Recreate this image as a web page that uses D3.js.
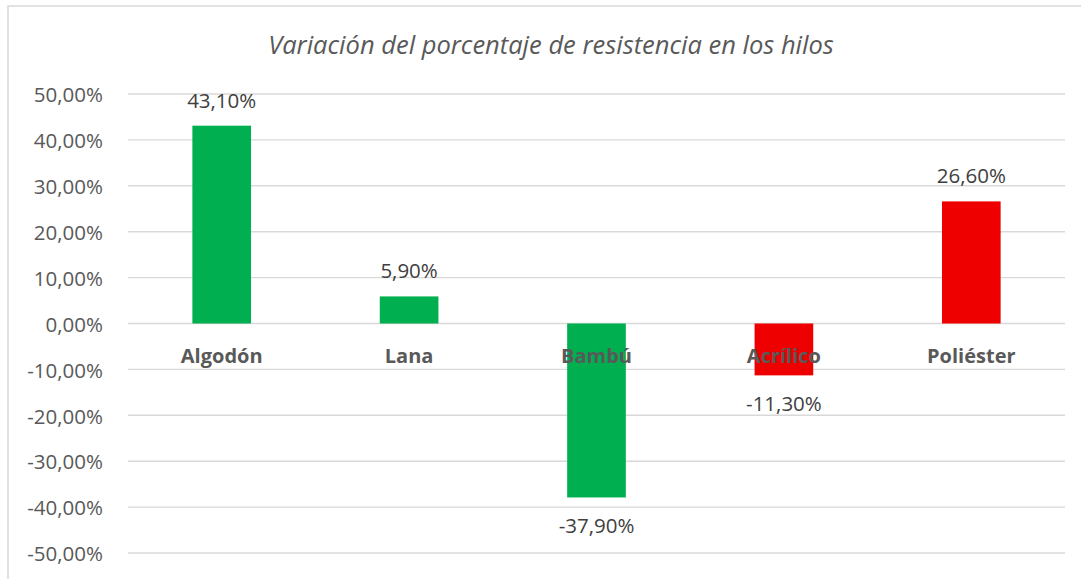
<!DOCTYPE html>
<html><head><meta charset="utf-8">
<script src="https://cdn.jsdelivr.net/npm/d3@7"></script>
<style>body{margin:0;background:#fff}svg{display:block}</style>
</head><body>
<svg id="c" width="1081" height="579"></svg>
<script>
const categories = ["Algodón","Lana","Bambú","Acrílico","Poliéster"];
const values = [0.431, 0.059, -0.379, -0.113, 0.266];
const barColors = ["#00B050","#00B050","#00B050","#EE0000","#EE0000"];
const tickValues = [0.5,0.4,0.3,0.2,0.1,0,-0.1,-0.2,-0.3,-0.4,-0.5];
const title = "Variación del porcentaje de resistencia en los hilos";

const svg = d3.select("#c");
const font = "'Open Sans', 'Noto Sans', sans-serif";
const fmt = v => d3.format(".2f")(v*100).replace(".", ",").replace("\u2212","-") + "%";

svg.append("rect").attr("x",8).attr("y",6).attr("width",1090).attr("height",600)
  .attr("fill","#fff").attr("stroke","#d9d9d9").attr("stroke-width",1.5);

const x = d3.scaleBand().domain(categories).range([128,1065]).padding(0);
const y = d3.scaleLinear().domain([-0.5,0.5]).range([553,94]);

svg.append("text").attr("x",551).attr("y",54).attr("text-anchor","middle")
  .attr("font-family",font).attr("font-style","italic").attr("font-size",25.5)
  .attr("fill","#595959").text(title);

const yAxis = d3.axisLeft(y).tickValues(tickValues).tickSize(0).tickPadding(25).tickFormat(fmt);
const ga = svg.append("g").attr("transform","translate(128,0)").call(yAxis);
ga.select(".domain").remove();
ga.selectAll("text").attr("font-family",font).attr("font-size",20.5).attr("fill","#595959").attr("dy","0.38em");

svg.append("g").selectAll("line").data(tickValues).join("line")
  .attr("x1",128).attr("x2",1065).attr("y1",d=>y(d)).attr("y2",d=>y(d))
  .attr("stroke","#d9d9d9").attr("stroke-width",1.4);

const bw = x.bandwidth()*0.313;
svg.append("g").selectAll("rect").data(values).join("rect")
  .attr("x",(d,i)=>x(categories[i])+x.bandwidth()/2-bw/2)
  .attr("width",bw)
  .attr("y",d=>y(Math.max(0,d)))
  .attr("height",d=>Math.abs(y(d)-y(0)))
  .attr("fill",(d,i)=>barColors[i]);

svg.append("g").selectAll("text").data(categories).join("text")
  .attr("x",d=>x(d)+x.bandwidth()/2).attr("y",y(0)+39).attr("text-anchor","middle")
  .attr("font-family",font).attr("font-weight","bold").attr("font-size",20)
  .attr("fill","#595959").text(d=>d);

svg.append("g").selectAll("text").data(values).join("text")
  .attr("x",(d,i)=>x(categories[i])+x.bandwidth()/2)
  .attr("y",d=> d>=0 ? y(d)-18 : y(d)+36).attr("text-anchor","middle")
  .attr("font-family",font).attr("font-size",20.5)
  .attr("fill","#404040").text(d=>fmt(d));
</script>
</body></html>
